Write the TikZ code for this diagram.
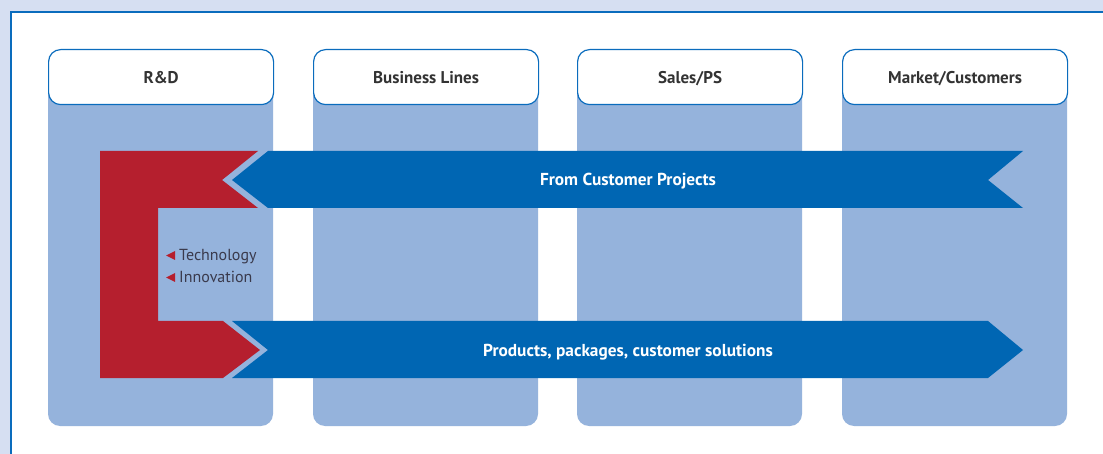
\documentclass[tikz,border=0pt]{standalone}
\usepackage{fontspec}
\setmainfont{PT Sans}
\definecolor{pagebg}{HTML}{D6DFF2}
\definecolor{frameblue}{HTML}{0A6CBD}
\definecolor{colblue}{HTML}{95B3DC}
\definecolor{arrowblue}{HTML}{0066B3}
\definecolor{rdred}{HTML}{B51F2E}
\definecolor{headtext}{HTML}{333333}
\definecolor{bodytext}{HTML}{3A3A4C}
\tikzset{
  column/.style={fill=colblue, rounded corners=12pt, draw=none},
  header/.style={fill=white, draw=frameblue, line width=1.2pt, rounded corners=12pt},
  headlabel/.style={font=\bfseries\fontsize{17}{19}\selectfont, text=headtext, anchor=base, inner sep=0pt},
  arrowlabel/.style={font=\bfseries\fontsize{17.3}{19}\selectfont, text=white, anchor=base, inner sep=0pt},
  itemlabel/.style={font=\fontsize{16}{18}\selectfont, text=bodytext, anchor=base west, inner sep=0pt},
  marker/.style={fill=rdred, draw=none},
}
\begin{document}
\begin{tikzpicture}[x=1pt, y=-1pt]
\useasboundingbox (0,0) rectangle (1103,454);
\fill[pagebg] (0,0) rectangle (1103,454);
\draw[frameblue, line width=1.5pt, fill=white] (11,12) rectangle (1120,470);
% columns
\foreach \x in {48, 313, 577, 842}{
  \fill[column] (\x,60) rectangle ++(225,366);
}
\node[header, minimum width=225pt, minimum height=55pt, anchor=north west, inner sep=0pt] (h1) at (48,49) {};
\node[header, minimum width=225pt, minimum height=55pt, anchor=north west, inner sep=0pt] (h2) at (313,49) {};
\node[header, minimum width=225pt, minimum height=55pt, anchor=north west, inner sep=0pt] (h3) at (577,49) {};
\node[header, minimum width=225pt, minimum height=55pt, anchor=north west, inner sep=0pt] (h4) at (842,49) {};
\node[headlabel] (t1) at ([yshift=-6pt]h1.center) {R\&D};
\node[headlabel] (t2) at ([yshift=-6pt]h2.center) {Business Lines};
\node[headlabel] (t3) at ([yshift=-6pt]h3.center) {Sales/PS};
\node[headlabel] (t4) at ([yshift=-6pt]h4.center) {Market/Customers};
% red C shape
\fill[rdred] (100,151) -- (258,151) -- (222,180) -- (258,208) -- (158,208) -- (158,321)
  -- (223,321) -- (260,350) -- (223,378) -- (100,378) -- cycle;
% blue arrows
\fill[arrowblue] (268,151) -- (1023,151) -- (988,180) -- (1023,208) -- (268,208) -- (232,180) -- cycle;
\fill[arrowblue] (232,321) -- (988,321) -- (1023,350) -- (988,378) -- (232,378) -- (268,350) -- cycle;
\node[arrowlabel] (a1) at (628,186) {From Customer Projects};
\node[arrowlabel] (a2) at (628,356) {Products, packages, customer solutions};
% items
\fill[marker] (166,255.5) -- (175,251) -- (175,260) -- cycle;
\fill[marker] (166,277.5) -- (175,273) -- (175,282) -- cycle;
\node[itemlabel] (i1) at (179,261) {Technology};
\node[itemlabel] (i2) at (179,283) {Innovation};
\end{tikzpicture}
\end{document}
